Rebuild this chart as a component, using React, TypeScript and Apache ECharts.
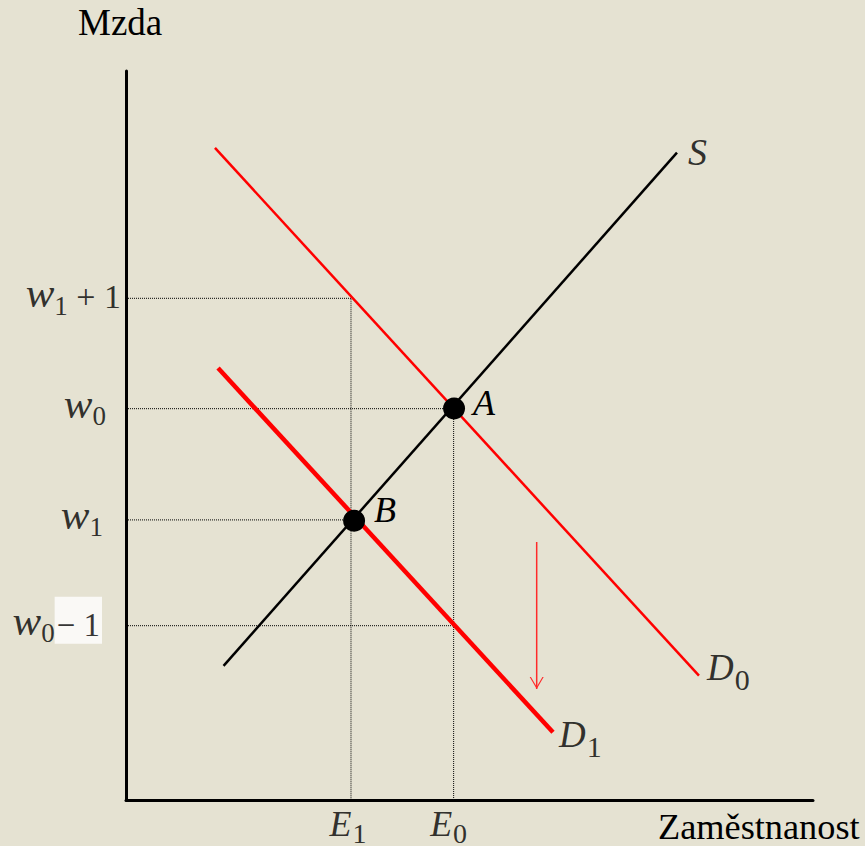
import React, { useEffect, useRef } from "react";
import * as echarts from "echarts";

// Axis ranges (abstract units: employment on x, wage on y)
const X_RANGE = [0, 100];
const Y_RANGE = [0, 100];

// Curves (endpoints)
const S_LINE = [[14.2, 18.4], [80.2, 88.8]];
const D0_LINE = [[12.95, 89.45], [83.4, 17.05]];
const D1_LINE = [[13.4, 59.25], [62.15, 9.3]];

// Equilibrium points
const POINT_A = [47.75, 53.7];
const POINT_B = [33.2, 38.3];

// Wage levels (y) and employment levels (x)
const W1_PLUS_1 = 68.82;
const W0 = 53.68;
const W1 = 38.42;
const W0_MINUS_1 = 23.91;
const E1 = 32.75;
const E0 = 47.69;

// Shift arrow (x, from y, to y)
const ARROW_X = 59.78;
const ARROW_FROM = 35.39;
const ARROW_TO = 15.23;

const FONT = "Liberation Serif";
const BG = "#e5e2d2";
const RED = "#ff0000";

const dotted = (data: number[][]) => ({
  type: "line",
  data,
  symbol: "none",
  silent: true,
  z: 1,
  lineStyle: { color: "#000", width: 1, type: [1, 1] },
});

const wRich = {
  w: { fontFamily: FONT, fontSize: 43, fontStyle: "italic", color: "#000" },
  s: { fontFamily: FONT, fontSize: 27, color: "#000", padding: [26, 0, 0, 0] },
  n: { fontFamily: FONT, fontSize: 34, color: "#000", padding: [7, 0, 0, 0] },
  box: {
    fontFamily: FONT,
    fontSize: 33,
    color: "#000",
    backgroundColor: "#ffffff",
    padding: [11.5, 2, 2.5, 2],
  },
};

const eRich = {
  e: { fontFamily: FONT, fontSize: 36, fontStyle: "italic", color: "#000" },
  s: { fontFamily: FONT, fontSize: 28, color: "#000", padding: [18, 0, 0, 1] },
};

const dRich = {
  d: { fontFamily: FONT, fontSize: 37, fontStyle: "italic", color: "#000" },
  s: { fontFamily: FONT, fontSize: 30, color: "#000", padding: [23, 0, 0, 1] },
};

const Y_LABELS = [
  { y: W1_PLUS_1, text: "{w|w}{s|1}{n| + 1}", distance: 5 },
  { y: W0, text: "{w|w}{s|0}", distance: 20 },
  { y: W1, text: "{w|w}{s|1}", distance: 23 },
  { y: W0_MINUS_1, text: "{w|w}{s|0}{box|− 1}", distance: 24 },
];

const X_LABELS = [
  { x: E1, text: "{e|E}{s|1}", dx: -3 },
  { x: E0, text: "{e|E}{s|0}", dx: -5 },
];

export default function App() {
  const ref = useRef<HTMLDivElement>(null);

  useEffect(() => {
    const chart = echarts.init(ref.current!, null, { renderer: "svg" });

    const labelData: any[] = [];
    Y_LABELS.forEach((l) => {
      labelData.push({
        value: [X_RANGE[0], l.y],
        label: {
          show: true,
          position: "left",
          distance: l.distance,
          offset: [0, -5.5],
          formatter: l.text,
          rich: wRich,
        },
      });
    });
    X_LABELS.forEach((l) => {
      labelData.push({
        value: [l.x, Y_RANGE[0]],
        label: {
          show: true,
          position: "inside",
          offset: [l.dx, 24],
          formatter: l.text,
          rich: eRich,
        },
      });
    });
    labelData.push({
      value: S_LINE[1],
      label: {
        show: true,
        position: "right",
        distance: 11,
        offset: [0, -1],
        formatter: "S",
        fontFamily: FONT,
        fontSize: 38,
        fontStyle: "italic",
        color: "#000",
      },
    });
    labelData.push({
      value: D0_LINE[1],
      label: {
        show: true,
        position: "right",
        distance: 8,
        offset: [0, -8],
        formatter: "{d|D}{s|0}",
        rich: dRich,
      },
    });
    labelData.push({
      value: D1_LINE[1],
      label: {
        show: true,
        position: "right",
        distance: 6,
        offset: [0, 2.5],
        formatter: "{d|D}{s|1}",
        rich: dRich,
      },
    });

    const option: any = {
      animation: false,
      backgroundColor: BG,
      grid: { left: 126, right: 52, top: 71, bottom: 46, containLabel: false },
      xAxis: {
        type: "value",
        min: X_RANGE[0],
        max: X_RANGE[1],
        axisLine: { show: true, onZero: false, lineStyle: { color: "#000", width: 3 } },
        axisTick: { show: false },
        axisLabel: { show: false },
        splitLine: { show: false },
      },
      yAxis: {
        type: "value",
        min: Y_RANGE[0],
        max: Y_RANGE[1],
        axisLine: { show: true, onZero: false, lineStyle: { color: "#000", width: 3 } },
        axisTick: { show: false },
        axisLabel: { show: false },
        splitLine: { show: false },
      },
      graphic: [
        {
          type: "text",
          x: 78,
          y: 22.5,
          style: {
            text: "Mzda",
            fontFamily: FONT,
            fontSize: 37,
            fill: "#000",
            textAlign: "left",
            textVerticalAlign: "middle",
            align: "left",
            verticalAlign: "middle",
          },
        },
        {
          type: "text",
          x: 658,
          y: 827,
          style: {
            text: "Zaměstnanost",
            fontFamily: FONT,
            fontSize: 36.3,
            fill: "#000",
            textAlign: "left",
            textVerticalAlign: "middle",
            align: "left",
            verticalAlign: "middle",
          },
        },
      ],
      series: [
        dotted([[X_RANGE[0], W1_PLUS_1], [E1, W1_PLUS_1], [E1, Y_RANGE[0]]]),
        dotted([[X_RANGE[0], W0], [E0, W0], [E0, Y_RANGE[0]]]),
        dotted([[X_RANGE[0], W1], [E1, W1]]),
        dotted([[X_RANGE[0], W0_MINUS_1], [E0, W0_MINUS_1]]),
        {
          type: "line",
          name: "S",
          data: S_LINE,
          symbol: "none",
          z: 3,
          lineStyle: { color: "#000", width: 2.5 },
        },
        {
          type: "line",
          name: "D0",
          data: D0_LINE,
          symbol: "none",
          z: 3,
          lineStyle: { color: RED, width: 2.5 },
        },
        {
          type: "line",
          name: "D1",
          data: D1_LINE,
          symbol: "none",
          z: 3,
          lineStyle: { color: RED, width: 4.5 },
        },
        {
          type: "line",
          name: "shift",
          symbol: "none",
          z: 3,
          lineStyle: { color: "#ff2a2a", width: 1.5 },
          data: [
            [ARROW_X, ARROW_FROM],
            {
              value: [ARROW_X, ARROW_TO],
              symbol: "path://M0,0 L5,9 L10,0 L9.1,0 L5,7.3 L0.9,0 Z",
              symbolSize: [14, 12],
              symbolOffset: [0, -6],
              itemStyle: { color: "#ff2a2a", borderWidth: 0, opacity: 1 },
            },
          ],
        },
        {
          type: "scatter",
          name: "points",
          z: 5,
          symbolSize: 22,
          itemStyle: { color: "#000", opacity: 1 },
          data: [
            {
              value: POINT_A,
              label: {
                show: true,
                position: "right",
                distance: 8,
                offset: [0, -6],
                formatter: "A",
                fontFamily: FONT,
                fontSize: 36,
                fontStyle: "italic",
                color: "#000",
              },
            },
            {
              value: POINT_B,
              label: {
                show: true,
                position: "right",
                distance: 9,
                offset: [0, -11],
                formatter: "B",
                fontFamily: FONT,
                fontSize: 36,
                fontStyle: "italic",
                color: "#000",
              },
            },
          ],
        },
        {
          type: "scatter",
          name: "labels",
          z: 6,
          symbolSize: 0,
          silent: true,
          clip: false,
          itemStyle: { color: "transparent" },
          data: labelData,
        },
      ],
    };

    chart.setOption(option);
    return () => chart.dispose();
  }, []);

  return (
    <div
      ref={ref}
      style={{ position: "absolute", left: 0, top: 0, width: 865, height: 846 }}
    />
  );
}
